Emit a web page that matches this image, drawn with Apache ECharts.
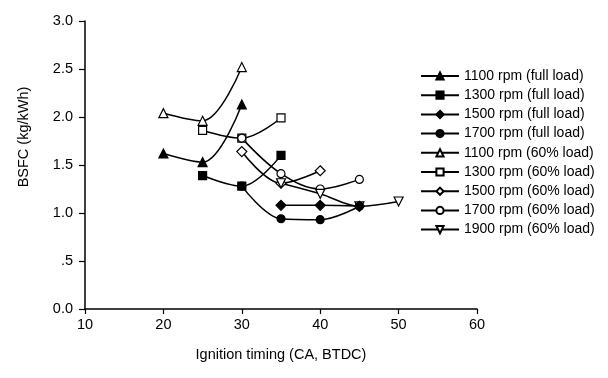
<!DOCTYPE html>
<html><head><meta charset="utf-8">
<script src="https://cdn.jsdelivr.net/npm/echarts@6/dist/echarts.min.js"></script>
<style>html,body{margin:0;padding:0;background:#fff}#c{width:608px;height:378px}</style>
</head><body><div id="c"></div>
<script>
const seriesNames = ['1100 rpm (full load)','1300 rpm (full load)','1500 rpm (full load)','1700 rpm (full load)','1100 rpm (60% load)','1300 rpm (60% load)','1500 rpm (60% load)','1700 rpm (60% load)','1900 rpm (60% load)'];
const xs1100full = [20,25,30];       const ys1100full = [1.62,1.53,2.13];
const xs1300full = [25,30,35];       const ys1300full = [1.39,1.28,1.60];
const xs1500full = [35,40,45];       const ys1500full = [1.08,1.08,1.07];
const xs1700full = [30,35,40,45];    const ys1700full = [1.28,0.94,0.93,1.07];
const xs1100p60 = [20,25,30];        const ys1100p60 = [2.04,1.96,2.52];
const xs1300p60 = [25,30,35];        const ys1300p60 = [1.86,1.78,1.99];
const xs1500p60 = [30,35,40];        const ys1500p60 = [1.64,1.31,1.44];
const xs1700p60 = [30,35,40,45];     const ys1700p60 = [1.78,1.41,1.25,1.35];
const xs1900p60 = [35,40,45,50];     const ys1900p60 = [1.31,1.20,1.07,1.12];
const xTicks = [10,20,30,40,50,60];
const yTicks = [0,0.5,1,1.5,2,2.5,3];

const xsAll = [xs1100full,xs1300full,xs1500full,xs1700full,xs1100p60,xs1300p60,xs1500p60,xs1700p60,xs1900p60];
const ysAll = [ys1100full,ys1300full,ys1500full,ys1700full,ys1100p60,ys1300p60,ys1500p60,ys1700p60,ys1900p60];
const symbols = ['triangle','rect','diamond','circle','triangle','rect','diamond','circle','triangle'];
const filled = [true,true,true,true,false,false,false,false,false];
const rot = [0,0,0,0,0,0,0,0,180];
const sizes = [9,8,10,8,9,8,10,8,9];

const series = seriesNames.map((n,i)=>({
  name:n, type:'line', smooth:0.35,
  data: xsAll[i].map((x,j)=>[x, ysAll[i][j]]),
  symbol: symbols[i], symbolSize: sizes[i], symbolRotate: rot[i],
  showAllSymbol:true,
  lineStyle:{color:'#000', width:1.5},
  itemStyle:{color: filled[i]?'#000':'#fff', borderColor:'#000', borderWidth:1.2},
  emphasis:{disabled:true}, z: filled[i]?3:2
}));

const chart = echarts.init(document.getElementById('c'), null, {renderer:'canvas'});
chart.setOption({
  animation:false,
  backgroundColor:'#fff',
  textStyle:{fontFamily:'Liberation Sans, Arial, sans-serif'},
  grid:{left:85, right:131, top:21, bottom:69},
  legend:{
    orient:'vertical', left:415, top:64, itemGap:5.2, itemWidth:38, itemHeight:9,
    textStyle:{fontSize:14, lineHeight:14, color:'#000', fontFamily:'Liberation Sans, Arial, sans-serif'},
    data: seriesNames
  },
  xAxis:{
    type:'value', min:10, max:60, interval:10,
    name:'Ignition timing (CA, BTDC)', nameLocation:'middle', nameGap:38,
    nameTextStyle:{fontSize:14.5, color:'#000'},
    axisLine:{lineStyle:{color:'#000', width:1.5}},
    axisTick:{show:true, length:5, lineStyle:{color:'#000', width:1.2}},
    axisLabel:{fontSize:14.5, color:'#000', margin:8},
    splitLine:{show:false}
  },
  yAxis:{
    type:'value', min:0, max:3, interval:0.5,
    name:'BSFC (kg/kWh)', nameLocation:'middle', nameGap:54, nameRotate:90,
    nameTextStyle:{fontSize:14.5, color:'#000', padding:[0,0,0,56]},
    axisLine:{show:true, lineStyle:{color:'#000', width:1.5}},
    axisTick:{show:true, length:6, lineStyle:{color:'#000', width:1.2}},
    axisLabel:{fontSize:14.5, color:'#000', margin:12, formatter:v=> v===0.5 ? '.5' : v.toFixed(1)},
    splitLine:{show:false}
  },
  series: series
});
</script></body></html>
